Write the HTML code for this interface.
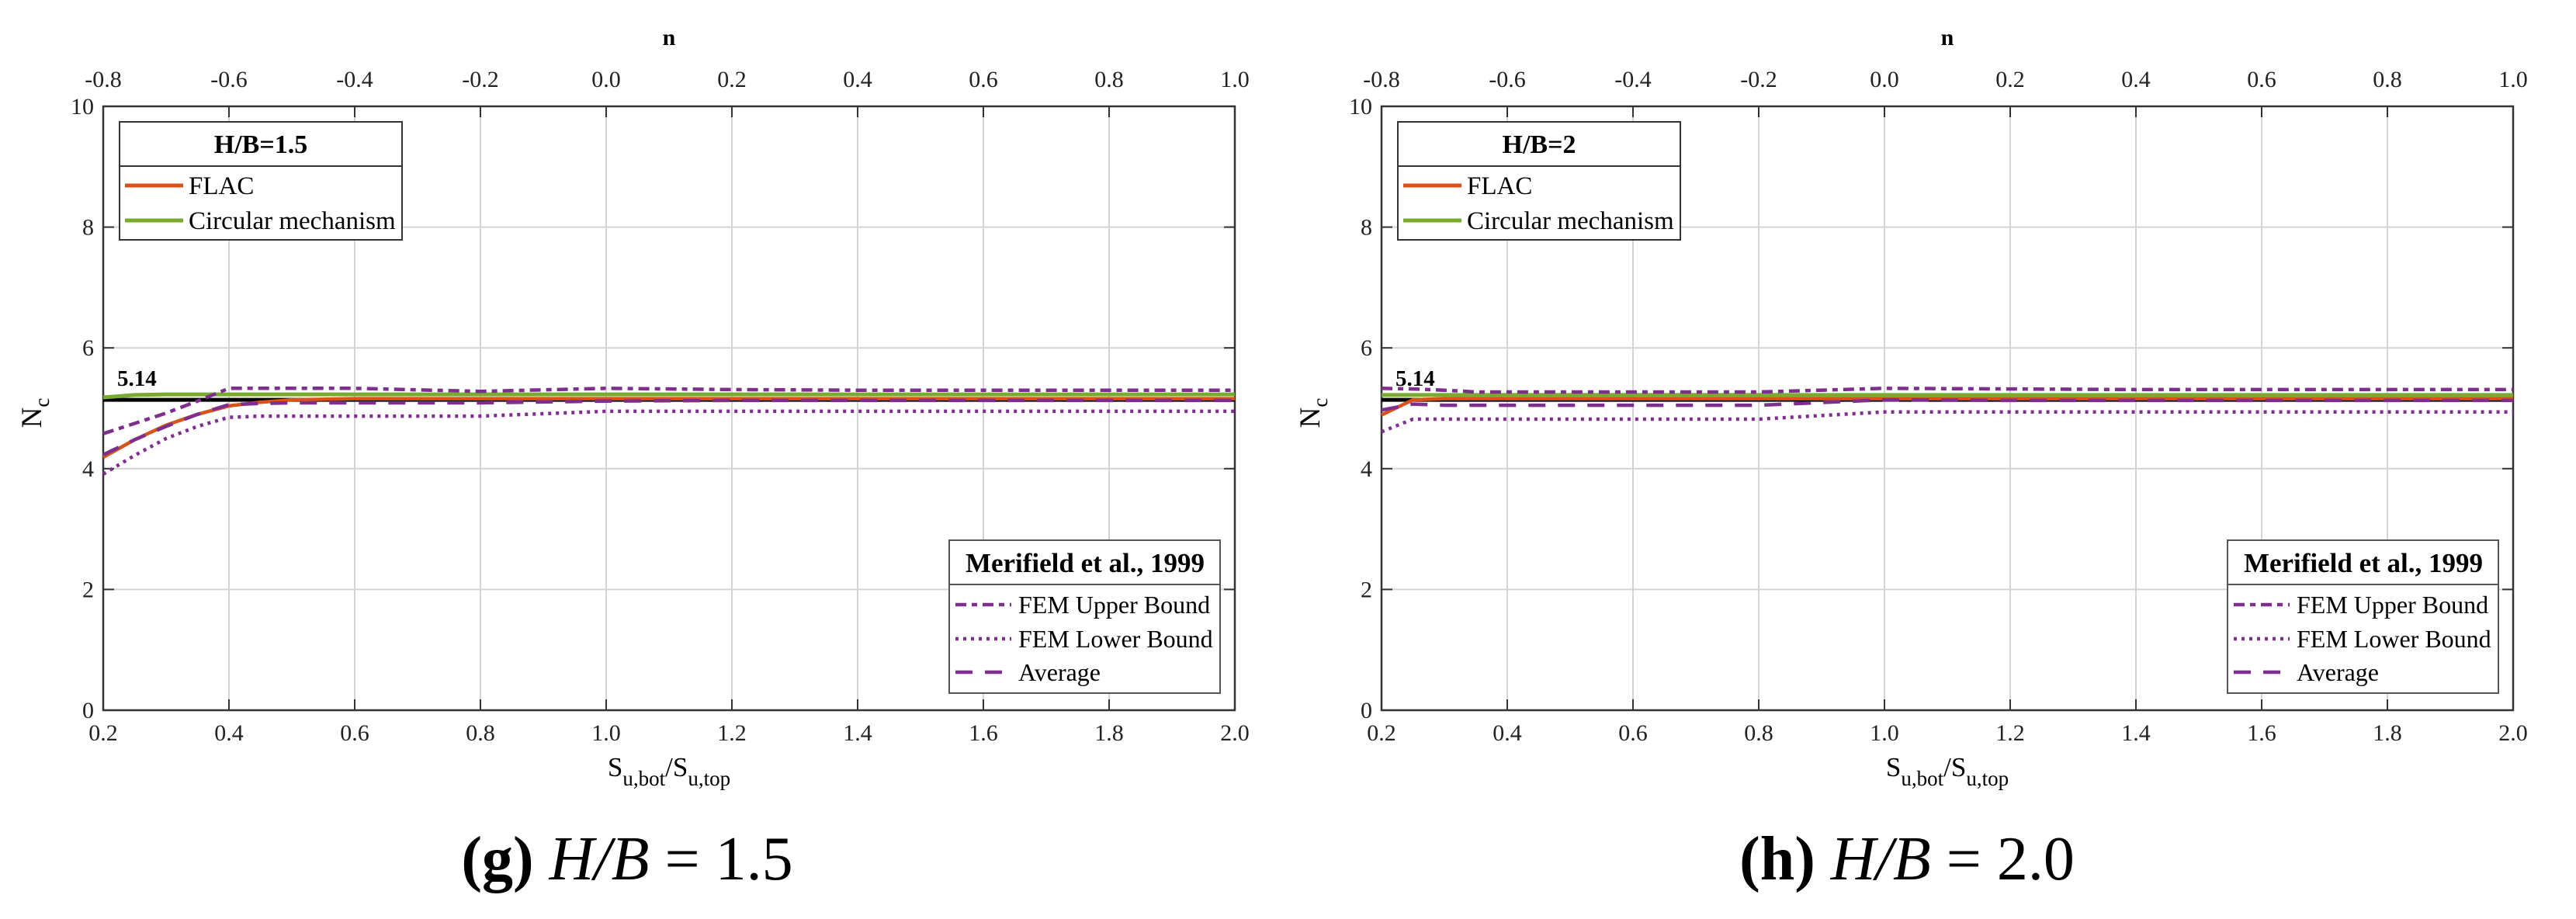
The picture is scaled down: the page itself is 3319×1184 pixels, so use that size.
<!DOCTYPE html>
<html><head><meta charset="utf-8"><style>
html,body{margin:0;padding:0;background:#fff;}
svg{display:block;font-family:"Liberation Serif",serif;}
</style></head><body>
<svg id="fig" width="3319" height="1184" viewBox="0 0 3319 1184"></svg>
<script>
const xs = [0.2,0.25,0.3,0.35,0.4,0.45,0.5,0.6,0.8,1.0,1.2,1.4,1.6,1.8,2.0];
const xTicks = ["0.2","0.4","0.6","0.8","1.0","1.2","1.4","1.6","1.8","2.0"];
const nTicks = ["-0.8","-0.6","-0.4","-0.2","0.0","0.2","0.4","0.6","0.8","1.0"];
const yTicks = ["0","2","4","6","8","10"];
const refValue = 5.14;
// Chart g (H/B=1.5)
const g_flac  = [4.19,4.48,4.72,4.90,5.04,5.10,5.14,5.16,5.16,5.16,5.16,5.16,5.16,5.16,5.16];
const g_circ  = [5.18,5.22,5.23,5.23,5.23,5.23,5.23,5.23,5.23,5.23,5.23,5.23,5.23,5.23,5.23];
const g_upper = [4.58,4.75,4.92,5.12,5.33,5.33,5.33,5.33,5.28,5.33,5.31,5.30,5.30,5.30,5.30];
const g_lower = [3.91,4.22,4.50,4.70,4.85,4.87,4.87,4.87,4.87,4.95,4.95,4.95,4.95,4.95,4.95];
const g_avg   = [4.23,4.48,4.70,4.90,5.06,5.08,5.09,5.09,5.09,5.12,5.13,5.13,5.13,5.13,5.13];
// Chart h (H/B=2)
const h_flac  = [4.89,5.14,5.16,5.16,5.16,5.16,5.16,5.16,5.16,5.16,5.16,5.16,5.16,5.16,5.16];
const h_circ  = [5.22,5.22,5.22,5.22,5.22,5.22,5.22,5.22,5.22,5.22,5.22,5.22,5.22,5.22,5.22];
const h_upper = [5.33,5.32,5.30,5.27,5.27,5.27,5.27,5.27,5.27,5.33,5.32,5.31,5.31,5.31,5.31];
const h_lower = [4.61,4.82,4.82,4.82,4.82,4.82,4.82,4.82,4.82,4.94,4.94,4.94,4.94,4.94,4.94];
const h_avg   = [4.97,5.07,5.05,5.05,5.05,5.05,5.05,5.05,5.05,5.14,5.13,5.13,5.13,5.13,5.13];

const NS="http://www.w3.org/2000/svg";
const svg=document.getElementById('fig');
function mk(tag,attrs,parent,text){const e=document.createElementNS(NS,tag);for(const k in attrs)e.setAttribute(k,attrs[k]);if(text!==undefined)e.textContent=text;(parent||svg).appendChild(e);return e;}
const ORANGE="#D95319",GREEN="#77AC30",PURPLE="#7E2F8E";

function chart(id,left,title,d,capX,capLetter,capVal){
  const right=left+1458, top=137, bottom=915;
  const X=v=>left+(v-0.2)/1.8*(right-left);
  const Y=v=>bottom-v/10*(bottom-top);
  const g=mk('g',{},svg);
  
  
  xTicks.forEach((t,i)=>{const x=X(parseFloat(t));
    const l=mk('line',{x1:x,x2:x,y1:top,y2:bottom,stroke:'#d4d4d4','stroke-width':2},g);
    
    mk('line',{x1:x,x2:x,y1:bottom,y2:bottom-14,stroke:'#333','stroke-width':2},g);
    mk('line',{x1:x,x2:x,y1:top,y2:top+14,stroke:'#333','stroke-width':2},g);
    const tl=mk('text',{x:x,y:954,'font-size':30,'text-anchor':'middle',fill:'#222'},g,t);
    
    const nl=mk('text',{x:x,y:112,'font-size':30,'text-anchor':'middle',fill:'#222'},g,nTicks[i]);
    
  });
  yTicks.forEach(t=>{const y=Y(parseFloat(t));
    const l=mk('line',{x1:left,x2:right,y1:y,y2:y,stroke:'#d4d4d4','stroke-width':2},g);
    
    mk('line',{x1:left,x2:left+14,y1:y,y2:y,stroke:'#333','stroke-width':2},g);
    mk('line',{x1:right,x2:right-14,y1:y,y2:y,stroke:'#333','stroke-width':2},g);
    const tl=mk('text',{x:left-12,y:y+10,'font-size':30,'text-anchor':'end',fill:'#222'},g,t);
    
  });
  const fr=mk('rect',{x:left,y:top,width:right-left,height:bottom-top,fill:'none',stroke:'#333','stroke-width':2.5},g);
  
  const path=(arr)=>arr.map((v,i)=>(i?'L':'M')+X(xs[i]).toFixed(1)+','+Y(v).toFixed(1)).join(' ');
  const ref=mk('line',{x1:X(0.2),x2:X(2.0),y1:Y(refValue),y2:Y(refValue),stroke:'#000','stroke-width':5},g);
  
  const series=[
    ['circular-mechanism-line',d.circ,GREEN,5,'none'],
    ['flac-line',d.flac,ORANGE,4.5,'none'],
    ['fem-upper-bound-line',d.upper,PURPLE,4.5,'14 7 7 7'],
    ['fem-lower-bound-line',d.lower,PURPLE,4.5,'4 6'],
    ['average-line',d.avg,PURPLE,4.5,'22 16']];
  series.forEach(s=>{const p=mk('path',{d:path(s[1]),fill:'none',stroke:s[2],'stroke-width':s[3],'stroke-dasharray':s[4]},g);
    });
  const rl=mk('text',{x:left+18,y:Y(refValue)-18,'font-size':29,'font-weight':'bold'},g,'5.14');
  
  const nt=mk('text',{x:(left+right)/2,y:58,'font-size':30,'font-weight':'bold','text-anchor':'middle'},g,'n');
  
  const xt=mk('text',{x:(left+right)/2,y:1000,'font-size':35,'text-anchor':'middle'},g);
  
  mk('tspan',{},xt,'S');mk('tspan',{dy:12,'font-size':27},xt,'u,bot');mk('tspan',{dy:-12},xt,'/S');mk('tspan',{dy:12,'font-size':27},xt,'u,top');
  const yt=mk('text',{transform:`translate(${left-80},532) rotate(-90)`,'font-size':37,'text-anchor':'middle'},g);
  
  mk('tspan',{},yt,'N');mk('tspan',{dy:10,'font-size':27},yt,'c');
  const L1=mk('g',{},g);
  const lx=left+21;
  mk('rect',{x:lx,y:157,width:364,height:152,fill:'#fff',stroke:'#333','stroke-width':2},L1);
  mk('line',{x1:lx,x2:lx+364,y1:214,y2:214,stroke:'#333','stroke-width':2},L1);
  mk('text',{x:lx+182,y:197,'font-size':34,'font-weight':'bold','text-anchor':'middle'},L1,title);
  mk('line',{x1:lx+7,x2:lx+82,y1:239,y2:239,stroke:ORANGE,'stroke-width':5},L1);
  mk('text',{x:lx+89,y:250,'font-size':33},L1,'FLAC');
  mk('line',{x1:lx+7,x2:lx+82,y1:284,y2:284,stroke:GREEN,'stroke-width':5},L1);
  mk('text',{x:lx+89,y:295,'font-size':33},L1,'Circular mechanism');
  const L2=mk('g',{},g);
  const mx=right-368;
  mk('rect',{x:mx,y:696,width:349,height:197,fill:'#fff',stroke:'#555','stroke-width':2},L2);
  mk('line',{x1:mx,x2:mx+349,y1:753,y2:753,stroke:'#555','stroke-width':2},L2);
  mk('text',{x:mx+175,y:737,'font-size':35,'font-weight':'bold','text-anchor':'middle'},L2,'Merifield et al., 1999');
  [['FEM Upper Bound','14 7 7 7',779],['FEM Lower Bound','4 6',823],['Average','22 16',866]].forEach(r=>{
    mk('line',{x1:mx+8,x2:mx+80,y1:r[2],y2:r[2],stroke:PURPLE,'stroke-width':4.5,'stroke-dasharray':r[1]},L2);
    mk('text',{x:mx+89,y:r[2]+11,'font-size':32},L2,r[0]);});
  const c=mk('text',{x:capX,y:1133,'font-size':80,'text-anchor':'middle'},svg);
  
  mk('tspan',{'font-weight':'bold'},c,'('+capLetter+')');
  mk('tspan',{'font-style':'italic'},c,' H/B');
  mk('tspan',{},c,' = '+capVal);
}
chart('chart-g',133,'H/B=1.5',{flac:g_flac,circ:g_circ,upper:g_upper,lower:g_lower,avg:g_avg},808,'g','1.5');
chart('chart-h',1780,'H/B=2',{flac:h_flac,circ:h_circ,upper:h_upper,lower:h_lower,avg:h_avg},2457,'h','2.0');
</script>
</body></html>
